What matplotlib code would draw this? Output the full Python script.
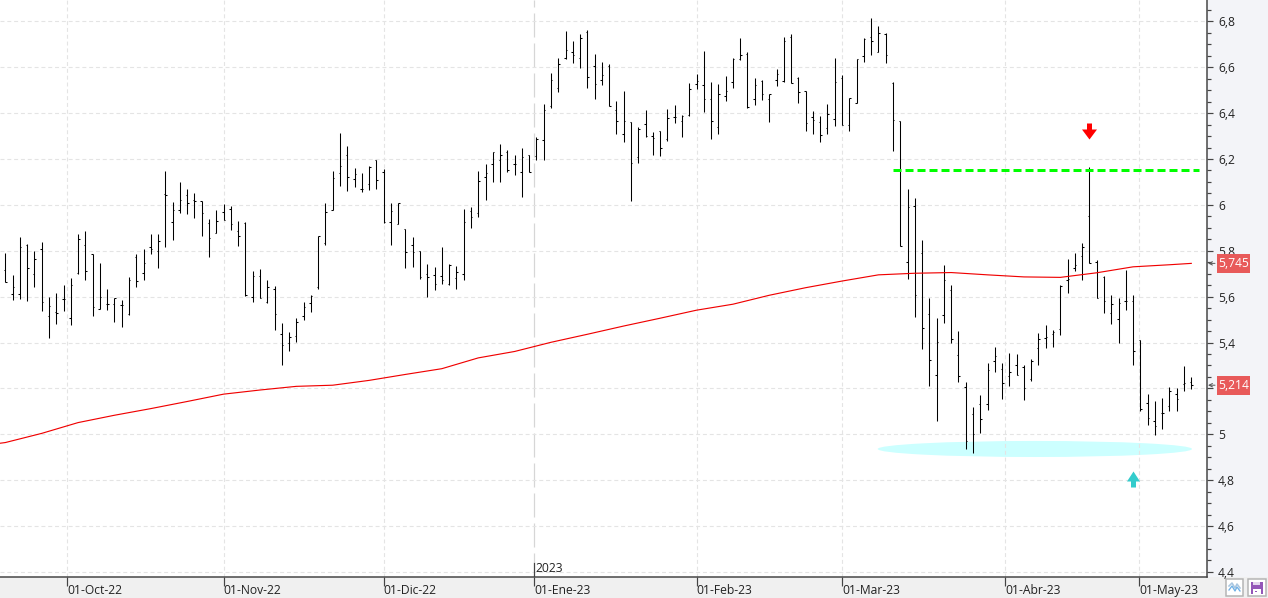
""" Daily OHLC bar chart with 200 session average and hand drawn support/resistance marks """
import matplotlib
matplotlib.use("Agg")
import matplotlib.pyplot as plt
from matplotlib.patches import Ellipse, Rectangle
from matplotlib.ticker import FixedLocator, FuncFormatter
import numpy as np

highs = [
    5.791, 5.696, 5.861, 5.830, 5.800, 5.839, 5.600, 5.617, 5.649, 5.683, 5.874, 5.887, 5.787, 5.748,
    5.635, 5.596, 5.587, 5.687, 5.787, 5.809, 5.874, 5.874, 6.148, 6.013, 6.100, 6.069, 6.052, 6.017,
    5.939, 5.978, 6.004, 5.996, 5.930, 5.925, 5.713, 5.722, 5.674, 5.648, 5.487, 5.448, 5.509, 5.578,
    5.607, 5.865, 6.009, 6.148, 6.313, 6.256, 6.161, 6.139, 6.170, 6.196, 6.157, 6.009, 6.009, 5.896,
    5.861, 5.800, 5.744, 5.731, 5.818, 5.744, 5.735, 5.983, 5.992, 6.148, 6.178, 6.230, 6.265, 6.238,
    6.217, 6.248, 6.217, 6.296, 6.439, 6.574, 6.639, 6.756, 6.713, 6.743, 6.761, 6.656, 6.621, 6.613,
    6.452, 6.495, 6.361, 6.339, 6.413, 6.317, 6.321, 6.417, 6.435, 6.391, 6.530, 6.569, 6.669, 6.535,
    6.526, 6.561, 6.639, 6.726, 6.665, 6.552, 6.543, 6.482, 6.591, 6.730, 6.743, 6.556, 6.495, 6.408,
    6.387, 6.439, 6.639, 6.565, 6.465, 6.635, 6.726, 6.813, 6.778, 6.748, 6.535, 6.364, 6.068, 6.029,
    5.846, 5.595, 5.507, 5.736, 5.651, 5.451, 5.227, 5.119, 5.171, 5.311, 5.381, 5.311, 5.355, 5.350,
    5.304, 5.329, 5.442, 5.477, 5.455, 5.649, 5.765, 5.791, 5.833, 6.164, 5.758, 5.690, 5.609, 5.595,
    5.714, 5.609, 5.412, 5.176, 5.145, 5.158, 5.206, 5.202, 5.298, 5.250,
]
lows = [
    5.664, 5.585, 5.590, 5.581, 5.642, 5.537, 5.420, 5.481, 5.537, 5.477, 5.700, 5.672, 5.516, 5.545,
    5.542, 5.490, 5.468, 5.520, 5.642, 5.672, 5.788, 5.725, 5.816, 5.846, 5.964, 5.959, 5.942, 5.864,
    5.774, 5.877, 5.933, 5.890, 5.820, 5.603, 5.577, 5.596, 5.574, 5.455, 5.303, 5.364, 5.403, 5.500,
    5.533, 5.633, 5.826, 5.978, 6.081, 6.059, 6.077, 6.055, 6.064, 6.068, 5.920, 5.825, 5.916, 5.725,
    5.729, 5.677, 5.597, 5.629, 5.655, 5.651, 5.634, 5.674, 5.899, 5.947, 6.020, 6.099, 6.099, 6.142,
    6.129, 6.033, 6.142, 6.194, 6.194, 6.424, 6.490, 6.637, 6.620, 6.598, 6.511, 6.463, 6.524, 6.429,
    6.311, 6.272, 6.016, 6.181, 6.298, 6.216, 6.211, 6.278, 6.355, 6.298, 6.387, 6.504, 6.403, 6.285,
    6.307, 6.452, 6.511, 6.630, 6.424, 6.437, 6.459, 6.363, 6.516, 6.537, 6.530, 6.442, 6.320, 6.311,
    6.272, 6.311, 6.342, 6.348, 6.324, 6.442, 6.624, 6.655, 6.665, 6.620, 6.233, 5.819, 5.678, 5.510,
    5.372, 5.209, 5.056, 5.484, 5.397, 5.227, 4.935, 4.918, 5.005, 5.104, 5.270, 5.152, 5.209, 5.259,
    5.148, 5.231, 5.301, 5.375, 5.380, 5.432, 5.615, 5.711, 5.672, 5.746, 5.595, 5.529, 5.480, 5.397,
    5.540, 5.304, 5.100, 5.039, 4.995, 5.024, 5.100, 5.103, 5.187, 5.196,
]
opens = [
    5.717, 5.613, 5.613, 5.823, 5.700, 5.809, 5.517, 5.535, 5.588, 5.509, 5.703, 5.826, 5.787, 5.548,
    5.568, 5.570, 5.565, 5.525, 5.774, 5.704, 5.817, 5.800, 6.046, 5.926, 5.978, 6.043, 6.020, 6.017,
    5.922, 5.878, 5.970, 5.983, 5.887, 5.922, 5.600, 5.691, 5.578, 5.635, 5.439, 5.396, 5.430, 5.517,
    5.574, 5.642, 5.833, 5.978, 6.139, 6.217, 6.113, 6.069, 6.091, 6.196, 6.143, 5.925, 5.917, 5.896,
    5.826, 5.800, 5.700, 5.696, 5.692, 5.653, 5.683, 5.700, 5.974, 5.966, 6.122, 6.178, 6.194, 6.230,
    6.178, 6.144, 6.217, 6.213, 6.283, 6.433, 6.508, 6.639, 6.665, 6.639, 6.752, 6.604, 6.543, 6.604,
    6.413, 6.308, 6.361, 6.208, 6.352, 6.300, 6.321, 6.287, 6.382, 6.365, 6.391, 6.526, 6.521, 6.461,
    6.339, 6.474, 6.535, 6.635, 6.656, 6.461, 6.539, 6.461, 6.543, 6.539, 6.730, 6.552, 6.495, 6.382,
    6.361, 6.335, 6.374, 6.552, 6.348, 6.443, 6.648, 6.730, 6.665, 6.745, 6.530, 6.364, 5.751, 5.994,
    5.790, 5.525, 5.259, 5.519, 5.630, 5.346, 5.206, 5.088, 5.132, 5.132, 5.320, 5.285, 5.254, 5.302,
    5.294, 5.241, 5.377, 5.420, 5.438, 5.460, 5.671, 5.726, 5.777, 5.951, 5.751, 5.687, 5.529, 5.503,
    5.582, 5.582, 5.412, 5.136, 5.058, 5.093, 5.123, 5.176, 5.219, 5.228,
]
closes = [
    5.664, 5.643, 5.817, 5.726, 5.765, 5.578, 5.561, 5.527, 5.591, 5.652, 5.852, 5.713, 5.557, 5.600,
    5.568, 5.596, 5.565, 5.674, 5.668, 5.748, 5.809, 5.843, 6.043, 5.978, 6.022, 6.009, 6.017, 5.965,
    5.857, 5.930, 5.935, 5.917, 5.865, 5.609, 5.691, 5.596, 5.643, 5.526, 5.391, 5.426, 5.491, 5.557,
    5.604, 5.865, 5.970, 6.117, 6.170, 6.122, 6.135, 6.069, 6.166, 6.107, 5.925, 5.974, 6.009, 5.796,
    5.796, 5.686, 5.687, 5.657, 5.674, 5.740, 5.709, 5.926, 5.948, 6.105, 6.139, 6.230, 6.217, 6.152,
    6.178, 6.208, 6.144, 6.287, 6.413, 6.543, 6.613, 6.674, 6.652, 6.726, 6.556, 6.526, 6.565, 6.430,
    6.365, 6.365, 6.182, 6.330, 6.300, 6.291, 6.248, 6.378, 6.382, 6.387, 6.504, 6.539, 6.461, 6.365,
    6.482, 6.495, 6.635, 6.652, 6.426, 6.521, 6.482, 6.482, 6.569, 6.713, 6.530, 6.491, 6.356, 6.369,
    6.304, 6.395, 6.535, 6.348, 6.465, 6.635, 6.721, 6.713, 6.748, 6.652, 6.369, 5.822, 5.990, 5.605,
    5.464, 5.324, 5.403, 5.674, 5.416, 5.254, 4.970, 5.001, 5.067, 5.281, 5.342, 5.224, 5.272, 5.259,
    5.202, 5.320, 5.416, 5.425, 5.446, 5.647, 5.675, 5.739, 5.816, 5.746, 5.595, 5.582, 5.569, 5.573,
    5.582, 5.363, 5.110, 5.071, 5.036, 5.093, 5.189, 5.154, 5.224, 5.214,
]

# moving average, read every 5 bars
ma_pos = [-0.73, 0, 5, 10, 15, 20, 25, 30, 35, 40, 45, 50, 55, 60, 65, 70, 75, 80, 85, 90, 95, 100, 105,
          110, 115, 120, 125, 130, 135, 140, 145, 150, 155, 160, 163]
ma_values = [4.961, 4.964, 5.004, 5.051, 5.083, 5.112, 5.143, 5.175, 5.193, 5.209, 5.214, 5.235, 5.261,
             5.286, 5.333, 5.361, 5.401, 5.436, 5.472, 5.506, 5.541, 5.567, 5.606, 5.639, 5.668, 5.695,
             5.702, 5.705, 5.695, 5.686, 5.684, 5.704, 5.730, 5.739, 5.745]

month_pos = [8.5, 30, 52, 72.7, 95, 115, 137.4, 155.8]
month_labels = ["01-Oct-22", "01-Nov-22", "01-Dic-22", "01-Ene-23", "01-Feb-23", "01-Mar-23", "01-Abr-23", "01-May-23"]
YEAR_TICK = 3

resistance_level = 6.15
resistance_span = [122, 164]
support_center = [141.5, 4.936]
support_size = [43.2, 0.07]
down_arrow = [149, 6.321]
up_arrow = [155, 4.805]
last_prices = [5.745, 5.214]
hidden_tick = "5,2"  # sits under the last price box

PX = 0.72  # one pixel in points at dpi 100
BAR_STEP = 7.276  # pixels per bar
AXIS_COLOR = "#444444"
GRID_COLOR = "#e4e4e4"
FONT = ["Open Sans", "DejaVu Sans"]

plt.rcParams["font.family"] = FONT
plt.rcParams["font.size"] = 8.7


def comma_label(value, _pos):
    label = f"{value:.1f}".replace(".", ",").replace(",0", "")
    return "" if label == hidden_tick else label


def draw_background(fig):
    # window chrome around the chart, in pixel coordinates
    bg = fig.add_axes([0, 0, 1, 1], zorder=0)
    bg.set_xlim(0, 1268)
    bg.set_ylim(598, 0)
    bg.axis("off")
    bg.add_patch(Rectangle((0, 0), 1268, 598, fc="#f3f4f8", ec="none"))
    bg.add_patch(Rectangle((0, 577), 1268, 21, fc="#f0f0f0", ec="none"))
    bg.add_patch(Rectangle((1226, 579), 17, 17, fc="white", ec="#b4b4b4", lw=1.5 * PX))
    bg.plot([1229, 1232, 1235, 1237, 1240], [586, 583, 588, 584, 588], color="#a9c6e0", lw=1.6 * PX)
    bg.plot([1229, 1232, 1235, 1237, 1240], [590, 586, 591, 587, 591], color="#6fb0e6", lw=1.3 * PX)
    bg.add_patch(Rectangle((1248, 579), 18, 17, fc="white", ec="#b4b4b4", lw=1.5 * PX))
    bg.add_patch(Rectangle((1251, 582), 12, 12, fc="#9457b8", ec="none"))
    bg.add_patch(Rectangle((1253, 582), 7, 3, fc="#e4d6ee", ec="none"))
    bg.add_patch(Rectangle((1253, 589), 8, 5, fc="white", ec="none"))
    bg.add_patch(Rectangle((1255, 591), 2, 1, fc="#9457b8", ec="none"))


def draw_bars(ax):
    pos = np.arange(len(highs))
    ax.vlines(pos, lows, highs, color="black", lw=1.05 * PX, zorder=3)
    ax.hlines(opens, pos - 0.2, pos, color="black", lw=1.05 * PX, zorder=3)
    ax.hlines(closes, pos, pos + 0.2, color="black", lw=1.05 * PX, zorder=3)


def draw_marks(ax):
    ax.plot(ma_pos, ma_values, color="#f00000", lw=1.15 * PX, zorder=4)
    ax.plot(resistance_span, [resistance_level] * 2, color="#00ff00", lw=3 * PX,
            linestyle=(0, (2.67, 1.33)), zorder=4)
    ax.add_patch(Ellipse(support_center, support_size[0], support_size[1], fc="#ccffff", ec="none", zorder=0.4))

    # arrow shapes in pixels around their centre
    down_shape = [(-2.5, 8), (2.5, 8), (2.5, 2), (7.5, 2), (0, -8), (-7.5, 2), (-2.5, 2)]
    up_shape = [(-2.5, -8), (2.5, -8), (2.5, -2), (6.5, -2), (0, 8), (-6.5, -2), (-2.5, -2)]
    ax.plot(down_arrow[0], down_arrow[1], marker=down_shape, ms=16 * PX, mfc="#ff0000", mew=0, zorder=5)
    ax.plot(up_arrow[0], up_arrow[1], marker=up_shape, ms=16 * PX, mfc="#33cccc", mew=0, zorder=5)


def draw_price_labels(ax, xmax):
    for price in last_prices:
        ax.add_patch(Rectangle((xmax + 10 / BAR_STEP, price - 0.0415), 33 / BAR_STEP, 0.083,
                               fc="#e85a5a", ec="none", clip_on=False, zorder=6))
        ax.text(xmax + 26.5 / BAR_STEP, price, f"{price:.3f}".replace(".", ","), color="white",
                ha="center", va="center", clip_on=False, zorder=7)
        ax.annotate("", xy=(xmax + 1 / BAR_STEP, price), xytext=(xmax + 8 / BAR_STEP, price),
                    annotation_clip=False, zorder=7,
                    arrowprops=dict(arrowstyle="->", color="#555555", lw=1 * PX, mutation_scale=6,
                                    shrinkA=0, shrinkB=0))


def main():
    fig = plt.figure(figsize=(12.68, 5.98), dpi=100)
    draw_background(fig)

    ax = fig.add_axes([0, 21 / 598, 1207 / 1268, 577 / 598], zorder=1)
    xmax = (1207 - 5.3) / BAR_STEP
    ax.set_xlim(-5.3 / BAR_STEP, xmax)
    ax.set_ylim(4.378, 6.893)

    for side in ["top", "left"]:
        ax.spines[side].set_visible(False)
    for side in ["right", "bottom"]:
        ax.spines[side].set_color(AXIS_COLOR)
        ax.spines[side].set_linewidth(1.5 * PX)

    ax.yaxis.tick_right()
    ax.yaxis.set_major_locator(FixedLocator(np.arange(4.4, 6.9, 0.2)))
    ax.yaxis.set_minor_locator(FixedLocator(np.arange(4.4, 6.9, 0.05)))
    ax.yaxis.set_major_formatter(FuncFormatter(comma_label))
    ax.tick_params(axis="y", which="major", length=6 * PX, width=1.2 * PX, color=AXIS_COLOR, pad=5 * PX,
                   labelcolor="#222222")
    ax.tick_params(axis="y", which="minor", length=4 * PX, width=1.2 * PX, color=AXIS_COLOR)

    ax.set_xticks(month_pos, month_labels, ha="left")
    ax.tick_params(axis="x", length=9 * PX, width=1.2 * PX, color=AXIS_COLOR, pad=-2 * PX, labelcolor="#222222")

    ax.set_axisbelow(True)
    ax.grid(True, which="major", color=GRID_COLOR, lw=1.1 * PX, linestyle=(0, (3.6, 2.6)))
    year_line = ax.get_xgridlines()[YEAR_TICK]
    year_line.set_color("#d6d6d6")
    year_line.set_linewidth(1.2 * PX)
    year_line.set_linestyle((0, (20, 5)))

    # year mark sits on top of the first January tick
    ax.axvline(month_pos[YEAR_TICK], ymin=0, ymax=14 / 577, color=AXIS_COLOR, lw=1.2 * PX, zorder=3)
    ax.text(month_pos[YEAR_TICK] + 1.5 / BAR_STEP, 4.378 + 8.5 / 229.4, "2023", color="#222222",
            ha="left", va="center")

    draw_bars(ax)
    draw_marks(ax)
    draw_price_labels(ax, xmax)

    fig.savefig("out.png", dpi=100)


if __name__ == "__main__":
    main()
